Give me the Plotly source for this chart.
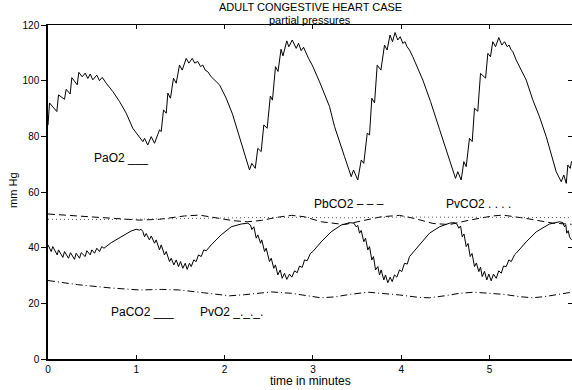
import plotly.graph_objects as go

# ---- data (time in minutes, pressures in mm Hg) ----
pao2_t = [0.000, 0.017, 0.100, 0.119, 0.187, 0.206, 0.251, 0.270, 0.331, 0.349, 0.387, 0.421, 0.451, 0.478, 0.507, 0.553, 0.583, 0.614,
          0.659, 0.734, 0.810, 0.886, 0.960, 1.017, 1.074, 1.093, 1.130, 1.169, 1.206, 1.263, 1.282, 1.308, 1.339, 1.357, 1.387, 1.421,
          1.452, 1.489, 1.520, 1.565, 1.595, 1.633, 1.662, 1.696, 1.727, 1.753, 1.780, 1.810, 1.848, 1.942, 2.018, 2.089, 2.146, 2.203,
          2.245, 2.282, 2.308, 2.347, 2.376, 2.414, 2.444, 2.482, 2.518, 2.542, 2.576, 2.605, 2.639, 2.661, 2.704, 2.727, 2.766, 2.811,
          2.837, 2.867, 2.894, 2.924, 2.950, 2.992, 3.075, 3.188, 3.245, 3.358, 3.434, 3.460, 3.508, 3.547, 3.576, 3.615, 3.641, 3.667,
          3.698, 3.728, 3.770, 3.811, 3.840, 3.873, 3.901, 3.930, 3.961, 3.989, 4.018, 4.043, 4.066, 4.094, 4.131, 4.245, 4.332, 4.434,
          4.547, 4.615, 4.641, 4.679, 4.709, 4.736, 4.773, 4.804, 4.830, 4.867, 4.898, 4.955, 4.981, 5.011, 5.037, 5.068, 5.105, 5.139,
          5.170, 5.200, 5.221, 5.243, 5.264, 5.302, 5.416, 5.490, 5.566, 5.642, 5.755, 5.812, 5.841, 5.869, 5.887, 5.914, 5.929]
pao2_v = [84.0, 92.0, 88.9, 94.9, 93.3, 96.9, 95.2, 101.1, 98.5, 103.0, 101.4, 102.7, 100.8, 102.4, 100.3, 102.0, 100.0, 101.2,
          99.1, 96.1, 92.5, 88.3, 82.9, 80.5, 78.1, 79.3, 76.9, 79.9, 77.5, 82.3, 81.7, 89.5, 88.3, 95.5, 93.7, 100.9,
          99.1, 105.6, 103.8, 108.0, 106.3, 108.0, 106.3, 106.9, 105.1, 105.6, 103.8, 103.2, 101.4, 98.5, 93.7, 88.0, 82.0, 76.0,
          71.5, 67.9, 70.3, 68.5, 75.7, 74.5, 84.1, 82.9, 94.5, 93.0, 105.0, 103.3, 111.3, 108.9, 114.3, 112.2, 114.6, 111.6,
          113.4, 110.8, 112.0, 109.6, 108.0, 105.6, 99.6, 90.7, 83.5, 72.7, 65.5, 67.9, 64.3, 71.5, 70.3, 81.1, 80.5, 93.7,
          92.0, 105.6, 103.8, 112.8, 111.0, 116.4, 114.0, 117.3, 114.6, 115.8, 113.4, 114.0, 112.2, 111.0, 108.6, 100.2, 92.5, 82.5,
          71.5, 64.9, 67.3, 64.3, 70.9, 69.1, 79.3, 78.1, 90.1, 89.0, 102.6, 100.9, 109.8, 108.6, 114.0, 112.2, 115.5, 112.8,
          114.0, 112.2, 112.8, 111.2, 110.4, 107.4, 100.2, 93.1, 87.0, 79.9, 67.3, 63.7, 66.1, 63.1, 69.7, 68.5, 71.0]

paco2_t = [0.000, 0.036, 0.054, 0.104, 0.119, 0.168, 0.187, 0.232, 0.255, 0.300, 0.319, 0.357, 0.376, 0.421, 0.439, 0.478, 0.496,
           0.527, 0.553, 0.583, 0.609, 0.634, 0.716, 0.829, 0.942, 0.999, 1.036, 1.055, 1.074, 1.093, 1.112, 1.149, 1.169, 1.206,
           1.225, 1.263, 1.282, 1.319, 1.339, 1.376, 1.395, 1.425, 1.452, 1.478, 1.501, 1.527, 1.554, 1.576, 1.602, 1.622, 1.651,
           1.678, 1.704, 1.735, 1.764, 1.792, 1.848, 1.961, 2.075, 2.188, 2.263, 2.293, 2.308, 2.331, 2.358, 2.376, 2.407, 2.421,
           2.452, 2.471, 2.508, 2.528, 2.557, 2.576, 2.602, 2.630, 2.652, 2.678, 2.704, 2.735, 2.761, 2.792, 2.822, 2.848, 2.879,
           2.905, 2.935, 2.973, 2.999, 3.094, 3.207, 3.320, 3.414, 3.463, 3.490, 3.508, 3.528, 3.547, 3.576, 3.596, 3.622, 3.641,
           3.667, 3.686, 3.709, 3.735, 3.754, 3.773, 3.803, 3.822, 3.848, 3.875, 3.898, 3.924, 3.950, 3.981, 4.007, 4.037, 4.068,
           4.094, 4.125, 4.226, 4.320, 4.434, 4.547, 4.604, 4.630, 4.652, 4.672, 4.691, 4.711, 4.736, 4.757, 4.781, 4.802, 4.830,
           4.851, 4.879, 4.898, 4.917, 4.943, 4.969, 4.992, 5.019, 5.045, 5.076, 5.105, 5.133, 5.159, 5.189, 5.219, 5.246, 5.283,
           5.302, 5.416, 5.529, 5.679, 5.793, 5.830, 5.849, 5.864, 5.875, 5.891, 5.906, 5.929]
paco2_v = [41.0, 38.6, 40.4, 37.4, 39.2, 36.5, 38.6, 36.2, 38.2, 35.8, 38.0, 36.2, 38.2, 36.8, 38.9, 37.4, 39.2,
           38.0, 39.8, 38.6, 40.4, 39.8, 41.8, 43.9, 46.0, 46.6, 46.3, 46.6, 45.8, 43.9, 45.1, 42.8, 44.2, 41.6,
           42.8, 39.2, 41.0, 37.4, 38.6, 35.0, 36.2, 33.8, 35.6, 33.2, 35.0, 32.6, 34.4, 32.2, 34.4, 33.2, 35.6,
           35.0, 37.4, 36.8, 39.2, 38.9, 41.0, 44.6, 47.5, 48.5, 48.8, 48.1, 46.5, 47.5, 43.4, 44.6, 41.6, 42.8,
           38.6, 39.8, 35.0, 36.2, 32.6, 33.8, 30.2, 32.0, 29.0, 30.8, 28.6, 30.5, 29.4, 31.7, 31.0, 33.4, 32.9,
           35.6, 35.3, 38.0, 38.6, 42.1, 45.7, 48.1, 49.0, 48.8, 47.5, 48.0, 45.2, 46.2, 42.1, 43.4, 39.2, 40.4,
           35.6, 36.8, 32.0, 33.2, 30.2, 32.0, 28.4, 30.2, 27.4, 29.4, 27.8, 30.2, 29.4, 32.0, 31.4, 34.4, 34.1,
           36.8, 38.0, 41.6, 45.2, 47.5, 48.8, 49.0, 48.5, 47.0, 47.8, 43.9, 44.9, 40.4, 41.5, 36.8, 37.9, 33.2,
           34.5, 31.4, 33.0, 29.6, 31.5, 28.4, 30.5, 28.1, 30.5, 29.0, 31.7, 30.8, 33.4, 33.2, 35.6, 35.0, 37.4,
           38.0, 42.1, 45.7, 48.5, 49.3, 49.0, 47.5, 48.2, 45.2, 46.1, 43.9, 42.8]

pbco2_t = [0.000, 0.337, 0.716, 1.036, 1.263, 1.546, 1.716, 1.923, 2.096, 2.259, 2.418, 2.592, 2.758, 2.905, 3.094, 3.358,
           3.547, 3.773, 3.981, 4.150, 4.358, 4.547, 4.773, 5.037, 5.151, 5.416, 5.717, 5.929]
pbco2_v = [52.1, 51.4, 50.5, 49.9, 50.2, 51.4, 51.7, 50.6, 49.7, 49.3, 49.8, 50.9, 51.6, 51.1, 49.3, 48.3,
           49.7, 51.1, 51.6, 50.5, 48.7, 48.3, 49.9, 51.4, 51.7, 50.5, 48.8, 48.4]

pvco2_t = [0.000, 0.580, 1.150, 1.720, 2.280, 2.850, 3.410, 3.980, 4.550, 5.110, 5.929]
pvco2_v = [50.2, 50.1, 50.3, 50.6, 50.8, 50.9, 50.7, 51.0, 50.9, 51.0, 50.8]

pvo2_t = [0.000, 0.337, 0.716, 1.036, 1.285, 1.489, 1.761, 2.055, 2.225, 2.418, 2.531, 2.758, 2.962, 3.086, 3.245, 3.415,
          3.625, 3.811, 3.981, 4.207, 4.320, 4.490, 4.660, 4.824, 5.000, 5.170, 5.340, 5.485, 5.623, 5.792, 5.929]
pvo2_v = [28.2, 26.7, 25.5, 24.8, 25.0, 24.8, 23.8, 22.7, 23.1, 23.9, 24.1, 23.6, 22.5, 22.0, 22.3, 23.2,
          24.0, 23.6, 23.0, 22.1, 22.0, 22.7, 23.6, 24.0, 23.7, 23.2, 22.4, 22.0, 22.4, 23.3, 24.0]

x_ticks = [0, 1, 2, 3, 4, 5]
y_ticks = [0, 20, 40, 60, 80, 100, 120]
x_range = [0, 5.934]
y_range = [0, 120]

labels = [("PaO2 ___", 0.493, 72.2), ("PbCO2 – – –", 2.995, 55.7), ("PvCO2 . . . .", 4.490, 55.7),
          ("PaCO2 ___", 0.691, 16.9), ("PvO2 _._._.", 1.693, 16.9)]

FONT = "Liberation Sans, Arial, Helvetica, sans-serif"

fig = go.Figure()
fig.add_trace(go.Scatter(x=pao2_t, y=pao2_v, mode="lines", line=dict(color="black", width=1)))
fig.add_trace(go.Scatter(x=paco2_t, y=paco2_v, mode="lines", line=dict(color="black", width=1)))
fig.add_trace(go.Scatter(x=pbco2_t, y=pbco2_v, mode="lines", line=dict(color="black", width=1, dash="7px,4px")))
fig.add_trace(go.Scatter(x=pvco2_t, y=pvco2_v, mode="lines", line=dict(color="#555555", width=1, dash="1px,3px")))
fig.add_trace(go.Scatter(x=pvo2_t, y=pvo2_v, mode="lines", line=dict(color="black", width=1, dash="7px,3px,1px,3px")))
fig.add_trace(go.Scatter(x=[], y=[], xaxis="x2", yaxis="y2", mode="lines", hoverinfo="skip"))

annotations = []
for txt, tx, ty in labels:
    annotations.append(dict(text=txt, x=tx, y=ty, xref="x", yref="y", xanchor="left", yanchor="middle",
                            showarrow=False, font=dict(family=FONT, size=12, color="black")))
annotations += [
    dict(text="ADULT CONGESTIVE HEART CASE", x=0.5, y=1.0533, xref="paper", yref="paper", xanchor="center",
         yanchor="middle", showarrow=False, borderpad=0, font=dict(family=FONT, size=11, color="black")),
    dict(text="partial pressures", x=0.5, y=1.0153, xref="paper", yref="paper", xanchor="center",
         yanchor="middle", showarrow=False, borderpad=0, font=dict(family=FONT, size=11, color="black")),
    dict(text="time in minutes", x=0.5, y=-0.066, xref="paper", yref="paper", xanchor="center",
         yanchor="middle", showarrow=False, font=dict(family=FONT, size=12, color="black")),
    dict(text="mm Hg", x=-0.067, y=0.506, xref="paper", yref="paper", xanchor="center", yanchor="middle",
         textangle=-90, showarrow=False, font=dict(family=FONT, size=11, color="black")),
]

fig.update_layout(
    width=572, height=390, margin=dict(l=48, r=0, t=25, b=31),
    paper_bgcolor="white", plot_bgcolor="white", showlegend=False,
    annotations=annotations,
    xaxis=dict(range=x_range, tickvals=x_ticks, ticks="inside", ticklen=4, tickcolor="black",
               showline=True, linecolor="black", linewidth=1.5, showgrid=False, zeroline=False,
               tickfont=dict(family=FONT, size=10, color="black")),
    xaxis2=dict(range=x_range, overlaying="x", anchor="y", side="top", tickvals=x_ticks[1:], ticks="inside",
                ticklen=4, tickcolor="black", showline=True, linecolor="black", linewidth=1,
                showticklabels=False, showgrid=False, zeroline=False),
    yaxis=dict(range=y_range, tickvals=y_ticks, ticks="outside", ticklen=5, tickcolor="black",
               showline=True, linecolor="black", linewidth=1.5, showgrid=False, zeroline=False,
               tickfont=dict(family=FONT, size=10, color="black")),
    yaxis2=dict(range=y_range, overlaying="y", anchor="x", side="right", tickvals=y_ticks[1:-1], ticks="inside",
                ticklen=4, tickcolor="black", showline=False, showticklabels=False, showgrid=False, zeroline=False),
)

fig.write_html("out.html")
